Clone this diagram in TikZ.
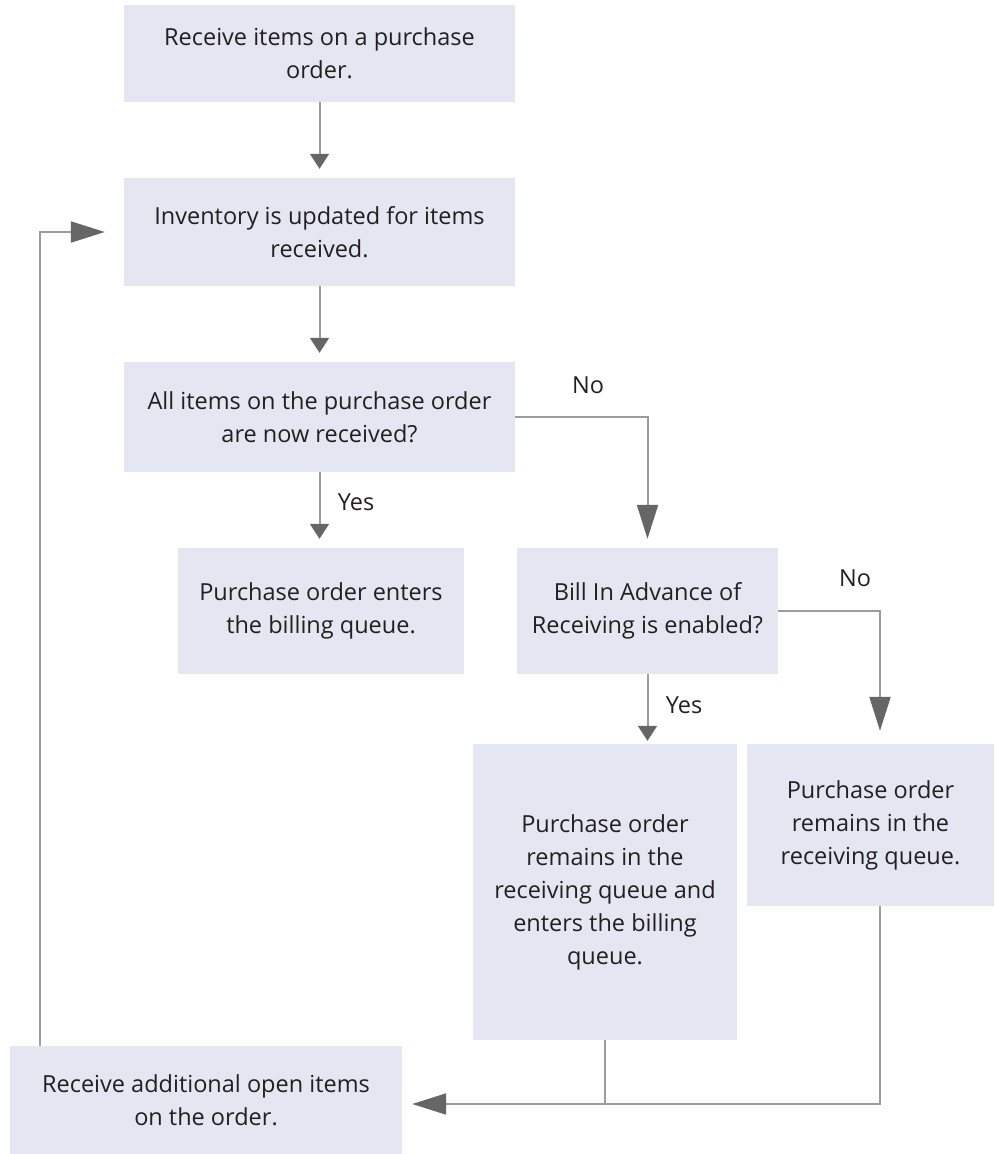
\documentclass[tikz,border=0pt]{standalone}
\usepackage{fontspec}
\setmainfont{Open Sans}
\usetikzlibrary{arrows.meta,calc}
\definecolor{boxfill}{HTML}{E4E6F1}
\definecolor{linegray}{HTML}{9C9C9C}
\definecolor{tipgray}{HTML}{666666}
\definecolor{txt}{HTML}{231F20}

\begin{document}
\begin{tikzpicture}[x=1pt, y=-1pt]
\tikzstyle{main}=[rectangle, fill=boxfill, inner sep=0pt, align=center, text=txt, font=\fontsize{23.5}{33}\selectfont]
\tikzstyle{lbl}=[text=txt, font=\fontsize{23.5}{27}\selectfont]
\tikzstyle{line}=[draw=linegray, line width=2pt]
\tikzstyle{connect}=[line, -{Triangle[color=tipgray, length=15pt, width=19pt]}]
\tikzstyle{bigconnect}=[line, -{Triangle[color=tipgray, length=34pt, width=21pt]}]

\useasboundingbox (0,0) rectangle (995,1154);

  \node[main, minimum width=391pt, minimum height=97pt]  (receive)  at (319.5,53.5) {Receive items on a purchase\\order.};
  \node[main, minimum width=391pt, minimum height=108pt] (update)   at (319.5,232)  {Inventory is updated for items\\received.};
  \node[main, minimum width=391pt, minimum height=110pt] (allitems) at (319.5,417)  {All items on the purchase order\\are now received?};
  \node[main, minimum width=286pt, minimum height=126pt] (billing)  at (321,611)    {Purchase order enters\\the billing queue.};
  \node[main, minimum width=261pt, minimum height=126pt] (advance)  at (647.5,611)  {Bill In Advance of\\Receiving is enabled?};
  \node[main, minimum width=264pt, minimum height=296pt] (both)     at (605,892)    {Purchase order\\remains in the\\receiving queue and\\enters the billing\\queue.};
  \node[main, minimum width=247pt, minimum height=162pt] (remains)  at (870.5,825)  {Purchase order\\remains in the\\receiving queue.};
  \node[main, minimum width=392pt, minimum height=108pt] (additional) at (206,1100) {Receive additional open items\\on the order.};

  \coordinate (lane) at (880,1104);
  \coordinate (loop) at (40,230);

  % straight arrows
  \path (receive.south) edge [connect, shorten >=9pt] (update.north);
  \path (update.south)  edge [connect, shorten >=9pt] (allitems.north);
  \path (allitems.south) edge [connect, shorten >=9pt] node [lbl, pos=0.4, right=14pt] {Yes} (allitems.south |- billing.north);
  \path (advance.south) edge [connect, shorten >=3pt] node [lbl, pos=0.45, right=14pt] {Yes} (advance.south |- both.north);

  % the two No branches
  \draw[bigconnect, shorten >=9pt] (allitems.east) -| (advance.north);
  \node[lbl] at (588,385) {No};
  \draw[bigconnect, shorten >=13pt] (advance.east) -| (remains.north -| lane);
  \node[lbl] at (855,578) {No};

  % back to receiving
  \draw[line] (both.south) -- (both.south |- lane);
  \draw[bigconnect, shorten >=10pt] (remains.south -| lane) -- (lane) -- (additional.east |- lane);
  \draw[bigconnect, shorten >=19pt] (additional.north -| loop) |- (update.west);

\end{tikzpicture}
\end{document}
